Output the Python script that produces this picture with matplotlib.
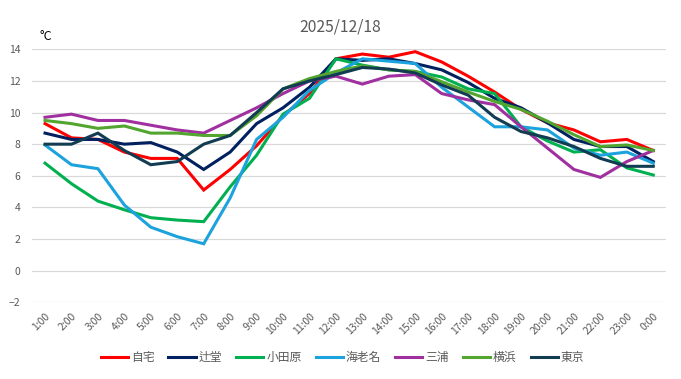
import matplotlib
matplotlib.use("Agg")
import matplotlib.pyplot as plt

plt.rcParams['font.family'] = ['Noto Sans CJK JP', 'DejaVu Sans']

hours = ["1:00", "2:00", "3:00", "4:00", "5:00", "6:00", "7:00", "8:00", "9:00", "10:00",
         "11:00", "12:00", "13:00", "14:00", "15:00", "16:00", "17:00", "18:00", "19:00",
         "20:00", "21:00", "22:00", "23:00", "0:00"]

jitaku = [9.3, 8.4, 8.3, 7.5, 7.1, 7.1, 5.1, 6.4, 7.9, 9.8, 11.2, 13.4, 13.7, 13.5, 13.85,
          13.2, 12.3, 11.3, 10.2, 9.35, 8.9, 8.15, 8.3, 7.6]
tsujido = [8.7, 8.3, 8.3, 8.0, 8.1, 7.5, 6.4, 7.5, 9.3, 10.3, 11.6, 13.4, 13.3, 13.4, 13.1,
           12.7, 11.9, 10.9, 10.3, 9.35, 8.3, 7.85, 7.85, 6.9]
odawara = [6.8, 5.5, 4.4, 3.85, 3.35, 3.2, 3.1, 5.3, 7.3, 9.9, 10.9, 13.4, 13.0, 12.7, 12.6,
           12.25, 11.5, 11.2, 9.1, 8.2, 7.5, 7.65, 6.5, 6.05]
ebina = [7.95, 6.7, 6.45, 4.15, 2.75, 2.15, 1.7, 4.6, 8.3, 9.7, 11.4, 12.5, 13.4, 13.25, 13.1,
         11.6, 10.35, 9.1, 9.1, 8.9, 7.75, 7.3, 7.5, 6.8]
miura = [9.7, 9.9, 9.5, 9.5, 9.2, 8.9, 8.7, 9.5, 10.3, 11.2, 12.0, 12.3, 11.8, 12.3, 12.4,
         11.2, 10.8, 10.5, 9.1, 7.75, 6.4, 5.9, 6.9, 7.6]
yokohama = [9.5, 9.3, 9.0, 9.15, 8.7, 8.7, 8.55, 8.55, 9.8, 11.5, 12.15, 12.6, 12.95, 12.7,
            12.6, 11.95, 11.3, 10.7, 10.2, 9.45, 8.6, 7.85, 7.95, 7.6]
tokyo = [8.0, 8.0, 8.7, 7.6, 6.7, 6.9, 8.0, 8.55, 10.0, 11.5, 12.0, 12.4, 12.85, 12.75, 12.5,
         11.75, 11.1, 9.7, 8.8, 8.4, 7.85, 7.1, 6.6, 6.6]

series = [
    ("自宅", jitaku, "#FF0000"),
    ("辻堂", tsujido, "#002060"),
    ("小田原", odawara, "#00B050"),
    ("海老名", ebina, "#1CA2DC"),
    ("三浦", miura, "#A0309F"),
    ("横浜", yokohama, "#52A52E"),
    ("東京", tokyo, "#123C52"),
]

fig = plt.figure(figsize=(6.81, 3.79), dpi=100)
ax = fig.add_axes([0.0467, 0.2024, 0.932, 0.6675])

x = list(range(len(hours)))
for name, vals, col in series:
    ax.plot(x, vals, color=col, lw=2.2, label=name, solid_joinstyle='miter')

ax.set_xlim(-0.5, len(hours) - 0.5)
ax.set_ylim(-2, 14)
ax.set_yticks(range(-2, 15, 2))
ax.grid(axis='y', color='#d9d9d9', lw=0.9)
ax.set_axisbelow(True)
for s in ax.spines.values():
    s.set_visible(False)
ax.tick_params(axis='both', length=0, colors='#595959', labelsize=7.5)
ax.set_xticks(x)
ax.set_xticklabels(hours, rotation=45, ha='right', rotation_mode='anchor')
ax.tick_params(axis='x', pad=6)
ax.tick_params(axis='y', pad=8)

fig.text(0.5, 0.93, "2025/12/18", ha='center', va='center', fontsize=11.3, color='#595959')
fig.text(0.058, 0.905, "°C", ha='left', va='center', fontsize=9, color='#000000')

fig.legend(loc='center', bbox_to_anchor=(0.503, 0.057), ncol=7, frameon=False,
           fontsize=8.5, handlelength=2.3, handletextpad=0.25, columnspacing=1.2,
           labelcolor='#595959')

fig.savefig("out.png", dpi=100)
